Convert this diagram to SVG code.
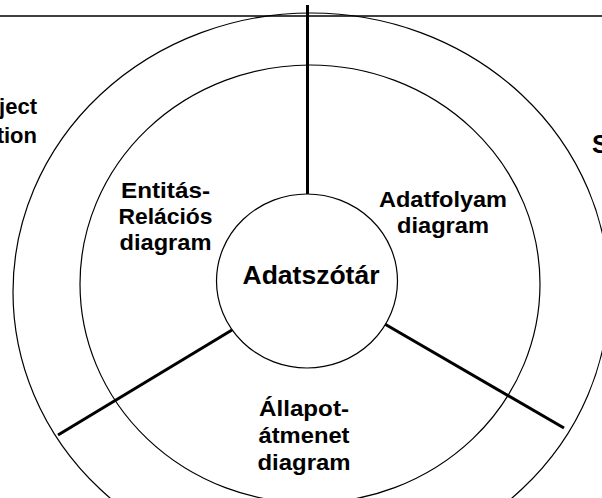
<svg xmlns="http://www.w3.org/2000/svg" width="602" height="498" viewBox="0 0 602 498">
<style>
.ring{fill:none;stroke:#000;stroke-width:1.2}
.spoke{stroke:#000;stroke-width:3;stroke-linecap:butt}
.top{stroke:#000;stroke-width:1.6}
text{font-family:"Liberation Sans",Arial,sans-serif;font-weight:bold;fill:#000;text-anchor:middle}
.lbl{font-size:22px}
.big{font-size:25px}
</style>
<rect width="602" height="498" fill="#fff"/>
<g id="outer-ring"><ellipse class="ring" cx="311" cy="292" rx="298" ry="279"/></g>
<g id="middle-ring"><ellipse class="ring" cx="310" cy="284" rx="230" ry="219"/></g>
<g id="top-rule"><line class="top" x1="0" y1="16" x2="602" y2="16"/></g>
<g id="connectors">
<line class="spoke" x1="307.5" y1="5" x2="307.5" y2="194"/>
<line class="spoke" x1="232" y1="330" x2="58" y2="435"/>
<line class="spoke" x1="383" y1="323" x2="564" y2="428"/>
</g>
<g id="adatszotar">
<ellipse cx="307" cy="281" rx="90.5" ry="87" fill="#fff" stroke="#000" stroke-width="1.2"/>
<text class="big" x="311" y="284" textLength="137" lengthAdjust="spacingAndGlyphs">Adatszótár</text>
</g>
<g id="entitas-relacios">
<text class="lbl" x="165.5" y="197.5" textLength="89" lengthAdjust="spacingAndGlyphs">Entitás-</text>
<text class="lbl" x="165.5" y="223.5" textLength="94" lengthAdjust="spacingAndGlyphs">Relációs</text>
<text class="lbl" x="165.5" y="249.5" textLength="92" lengthAdjust="spacingAndGlyphs">diagram</text>
</g>
<g id="adatfolyam">
<text class="lbl" x="443" y="207" textLength="128" lengthAdjust="spacingAndGlyphs">Adatfolyam</text>
<text class="lbl" x="443" y="233" textLength="92" lengthAdjust="spacingAndGlyphs">diagram</text>
</g>
<g id="allapotatmenet">
<text class="lbl" x="304" y="416" textLength="90" lengthAdjust="spacingAndGlyphs">Állapot-</text>
<text class="lbl" x="304" y="443" textLength="91" lengthAdjust="spacingAndGlyphs">átmenet</text>
<text class="lbl" x="304" y="470" textLength="93" lengthAdjust="spacingAndGlyphs">diagram</text>
</g>
<g id="left-label">
<text class="lbl" x="37" y="114" style="text-anchor:end">ject</text>
<text class="lbl" x="37" y="143" style="text-anchor:end">tion</text>
</g>
<g id="right-label">
<text class="big" x="592" y="153" style="text-anchor:start">S</text>
</g>
</svg>
